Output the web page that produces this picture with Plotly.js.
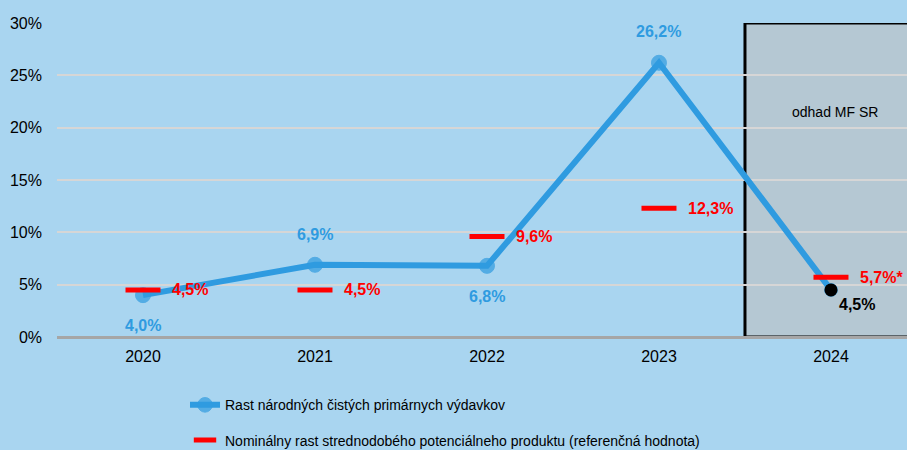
<!DOCTYPE html>
<html>
<head>
<meta charset="utf-8">
<script src="https://cdn.plot.ly/plotly-3.0.1.min.js"></script>
<style>
  html, body { margin: 0; padding: 0; background: #a9d5f0; }
  #chart { width: 907px; height: 450px; }
</style>
</head>
<body>
<div id="chart"></div>
<script>
var years = ['2020', '2021', '2022', '2023', '2024'];
var spending = [4.0, 6.9, 6.8, 26.2, 4.5];
var reference = [4.5, 4.5, 9.6, 12.3, 5.7];
var refNotes = ['', '', '', '', '*'];
var estimateIdx = 4;          // 2024 is the estimate
var estimateLabel = 'odhad MF SR';
var seriesNames = [
    'Rast národných čistých primárnych výdavkov',
    'Nominálny rast strednodobého potenciálneho produktu (referenčná hodnota)'
];

var BLUE = '#2f9be0';
var RED = '#ff0000';
var FONT = 'Liberation Sans Narrow, Arial Narrow, Liberation Sans, Arial, sans-serif';

function pct(v) {
    return v.toFixed(1).replace('.', ',') + '%';
}

var lastIdx = years.length - 1;

var trace1 = {
    x: years,
    y: spending,
    name: seriesNames[0],
    type: 'scatter',
    mode: 'lines+markers',
    line: {color: BLUE, width: 6},
    marker: {
        color: years.map(function (y, i) { return i === lastIdx ? 'black' : BLUE; }),
        size: years.map(function (y, i) { return i === lastIdx ? 13 : 15; })
    },
    legendgroup: 'a',
    hoverinfo: 'skip'
};

var trace2 = {
    x: years,
    y: reference,
    name: seriesNames[1],
    type: 'scatter',
    mode: 'markers',
    marker: {symbol: 'line-ew', size: 25, color: RED, line: {color: RED, width: 5}},
    legendgroup: 'b',
    hoverinfo: 'skip'
};

// black dot on top for the estimate
var trace3 = {
    x: [years[lastIdx]],
    y: [spending[lastIdx]],
    type: 'scatter',
    mode: 'markers',
    marker: {color: 'black', size: 13},
    showlegend: false,
    hoverinfo: 'skip'
};

var annotations = [];

// labels of the blue series (x given as category index)
var blueShift = [[0, -30], [0, 30], [0, -31], [0, 31], [26, -15]];
spending.forEach(function (v, i) {
    annotations.push({
        x: i, y: v, text: '<b>' + pct(v) + '</b>',
        showarrow: false,
        xshift: blueShift[i][0], yshift: blueShift[i][1],
        font: {family: FONT, size: 16, color: i === lastIdx ? 'black' : BLUE}
    });
});

// labels of the reference values
reference.forEach(function (v, i) {
    annotations.push({
        x: i, y: v, text: '<b>' + pct(v) + refNotes[i] + '</b>',
        showarrow: false, xanchor: 'left', xshift: 27,
        font: {family: FONT, size: 16, color: RED}
    });
});

annotations.push({
    x: estimateIdx, y: 21.5, text: estimateLabel,
    showarrow: false, xshift: 4,
    font: {family: FONT, size: 14, color: 'black'}
});

var layout = {
    width: 907,
    height: 450,
    paper_bgcolor: '#a9d5f0',
    plot_bgcolor: '#a9d5f0',
    margin: {l: 57, r: 0, t: 23, b: 113},
    font: {family: FONT, size: 16, color: 'black'},
    xaxis: {
        type: 'category',
        range: [-0.5, 4.442],
        showgrid: false,
        showline: false,
        zeroline: false,
        ticks: '',
        ticklabelstandoff: 8,
        tickfont: {family: FONT, size: 16, color: 'black'}
    },
    yaxis: {
        range: [0, 30],
        dtick: 5,
        ticksuffix: '%',
        showgrid: true,
        gridcolor: '#d6d6d6',
        gridwidth: 2,
        zeroline: true,
        zerolinecolor: '#a6a6a6',
        zerolinewidth: 3,
        showline: false,
        ticks: '',
        ticklabelstandoff: 14,
        tickfont: {family: FONT, size: 16, color: 'black'}
    },
    shapes: [{
        type: 'rect',
        xref: 'x', yref: 'y',
        x0: estimateIdx - 0.5, x1: estimateIdx + 0.6, y0: 0, y1: 30,
        fillcolor: 'rgba(192,190,188,0.55)',
        line: {color: 'black', width: 3},
        layer: 'below'
    }],
    annotations: annotations,
    showlegend: true,
    legend: {
        x: 0.1506, xanchor: 'left',
        yref: 'container',
        y: 0.135, yanchor: 'top',
        orientation: 'v',
        traceorder: 'grouped',
        tracegroupgap: 14,
        bgcolor: 'rgba(0,0,0,0)',
        font: {family: FONT, size: 14, color: 'black'}
    }
};

Plotly.newPlot('chart', [trace1, trace2, trace3], layout, {displayModeBar: false, staticPlot: true});
</script>
</body>
</html>
